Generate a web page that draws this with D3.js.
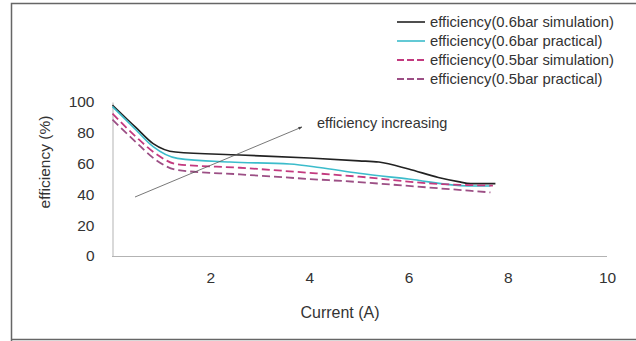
<!DOCTYPE html>
<html>
<head>
<meta charset="utf-8">
<script src="https://cdn.jsdelivr.net/npm/d3@7/dist/d3.min.js"></script>
<style>
  body { margin: 0; background: #fff; }
  text { font-family: "Liberation Sans", Arial, sans-serif; fill: #333; }
</style>
</head>
<body>
<div class="chart"></div>
<script>
// chart data (current in A, efficiency in %)
var seriesNames = ["efficiency(0.6bar simulation)", "efficiency(0.6bar practical)",
                   "efficiency(0.5bar simulation)", "efficiency(0.5bar practical)"];
var sim06 = [[0.03,98],[0.5,83.5],[0.85,73],[1.3,67.5],[2.6,65.6],[4,63.6],[5.0,61.8],[5.4,61],[6.0,56.5],[6.6,51],[7.0,48.3],[7.25,47],[7.75,47]];
var prac06 = [[0.03,97],[0.5,82],[0.85,71],[1.34,63.4],[2.4,61],[3.6,59.7],[4.2,57.5],[5.0,53.7],[6.0,50],[7.2,45.5],[7.65,45.5]];
var sim05 = [[0.03,92.5],[0.5,77.5],[0.9,66.5],[1.34,59.5],[2.6,57.3],[4,54],[5.0,51.5],[6.5,47],[7.7,45.7]];
var prac05 = [[0.03,88.5],[0.5,74],[0.9,62.5],[1.34,55.8],[2.6,53],[4,50],[5.0,48],[6,45.5],[7.65,41.3]];
var xTicks = [2, 4, 6, 8, 10];
var yTicks = [0, 20, 40, 60, 80, 100];

var width = 636, height = 341;

var svg = d3.select(".chart").append("svg")
    .attr("width", width)
    .attr("height", height);

// outer frame
svg.append("path")
   .attr("d", "M 11.5 " + (height + 2) + " L 11.5 3.5 L " + (width + 2) + " 3.5 M 11.5 339.5 L " + (width + 2) + " 339.5")
   .attr("fill", "none")
   .attr("stroke", "#666")
   .attr("stroke-width", 1.5);

var xScale = d3.scaleLinear().domain([0, 10]).range([111, 607]);
var yScale = d3.scaleLinear().domain([0, 100]).range([256, 102]);

// x axis
var xAxis = d3.axisBottom(xScale).tickValues(xTicks).tickSize(0).tickPadding(16);
var xg = svg.append("g").attr("transform", "translate(0," + yScale(0) + ")").call(xAxis);
xg.select(".domain").attr("stroke", "#b3b3b3").attr("d", "M" + (xScale(0) + 1) + ",0.5H" + xScale(10));
xg.selectAll("text").style("font-size", "15.5px").attr("fill", "#333").style("font-family", "Liberation Sans, Arial, sans-serif");

// y axis
var yAxis = d3.axisLeft(yScale).tickValues(yTicks).tickSize(0).tickPadding(18);
var yg = svg.append("g").attr("transform", "translate(" + (xScale(0) + 1.5) + ",0)").call(yAxis);
yg.select(".domain").attr("stroke", "#b3b3b3");
yg.selectAll("text").style("font-size", "15.5px").attr("fill", "#333").style("font-family", "Liberation Sans, Arial, sans-serif");

// axis titles
svg.append("text")
   .attr("x", 340).attr("y", 318)
   .attr("text-anchor", "middle")
   .style("font-size", "16px")
   .text("Current (A)");

svg.append("text")
   .attr("transform", "translate(50,162) rotate(-90)")
   .attr("text-anchor", "middle")
   .style("font-size", "15.5px")
   .text("efficiency (%)");

// lines
var line = d3.line()
    .x(function(d) { return xScale(d[0]); })
    .y(function(d) { return yScale(d[1]); })
    .curve(d3.curveMonotoneX);

var styles = [
  { data: sim06, color: "#222222", width: 1.6, dash: null },
  { data: prac06, color: "#3cbccb", width: 1.6, dash: null },
  { data: sim05, color: "#c33a7f", width: 1.8, dash: "8,4" },
  { data: prac05, color: "#9c4f85", width: 1.8, dash: "8,4" }
];

styles.forEach(function(s) {
  svg.append("path")
     .datum(s.data)
     .attr("d", line)
     .attr("fill", "none")
     .attr("stroke", s.color)
     .attr("stroke-width", s.width)
     .attr("stroke-dasharray", s.dash);
});

// legend
var legendY = [22, 41, 60, 79];
styles.forEach(function(s, i) {
  svg.append("line")
     .attr("x1", 397).attr("x2", 425)
     .attr("y1", legendY[i]).attr("y2", legendY[i])
     .attr("stroke", s.color)
     .attr("stroke-width", s.width)
     .attr("stroke-dasharray", s.dash ? "7,3" : null);
  svg.append("text")
     .attr("x", 430).attr("y", legendY[i])
     .attr("dy", "0.35em")
     .style("font-size", "14.8px")
     .text(seriesNames[i]);
});

// annotation arrow
svg.append("defs").append("marker")
   .attr("id", "arrow")
   .attr("viewBox", "0 0 10 10")
   .attr("refX", 9).attr("refY", 5)
   .attr("markerWidth", 5).attr("markerHeight", 5)
   .attr("orient", "auto")
   .append("path")
   .attr("d", "M0,1 L10,5 L0,9 Z")
   .attr("fill", "#444");

svg.append("line")
   .attr("x1", 135).attr("y1", 197)
   .attr("x2", 302).attr("y2", 127)
   .attr("stroke", "#555")
   .attr("stroke-width", 0.8)
   .attr("marker-end", "url(#arrow)");

svg.append("text")
   .attr("x", 317).attr("y", 123)
   .attr("dy", "0.35em")
   .style("font-size", "14.5px")
   .text("efficiency increasing");
</script>
</body>
</html>
